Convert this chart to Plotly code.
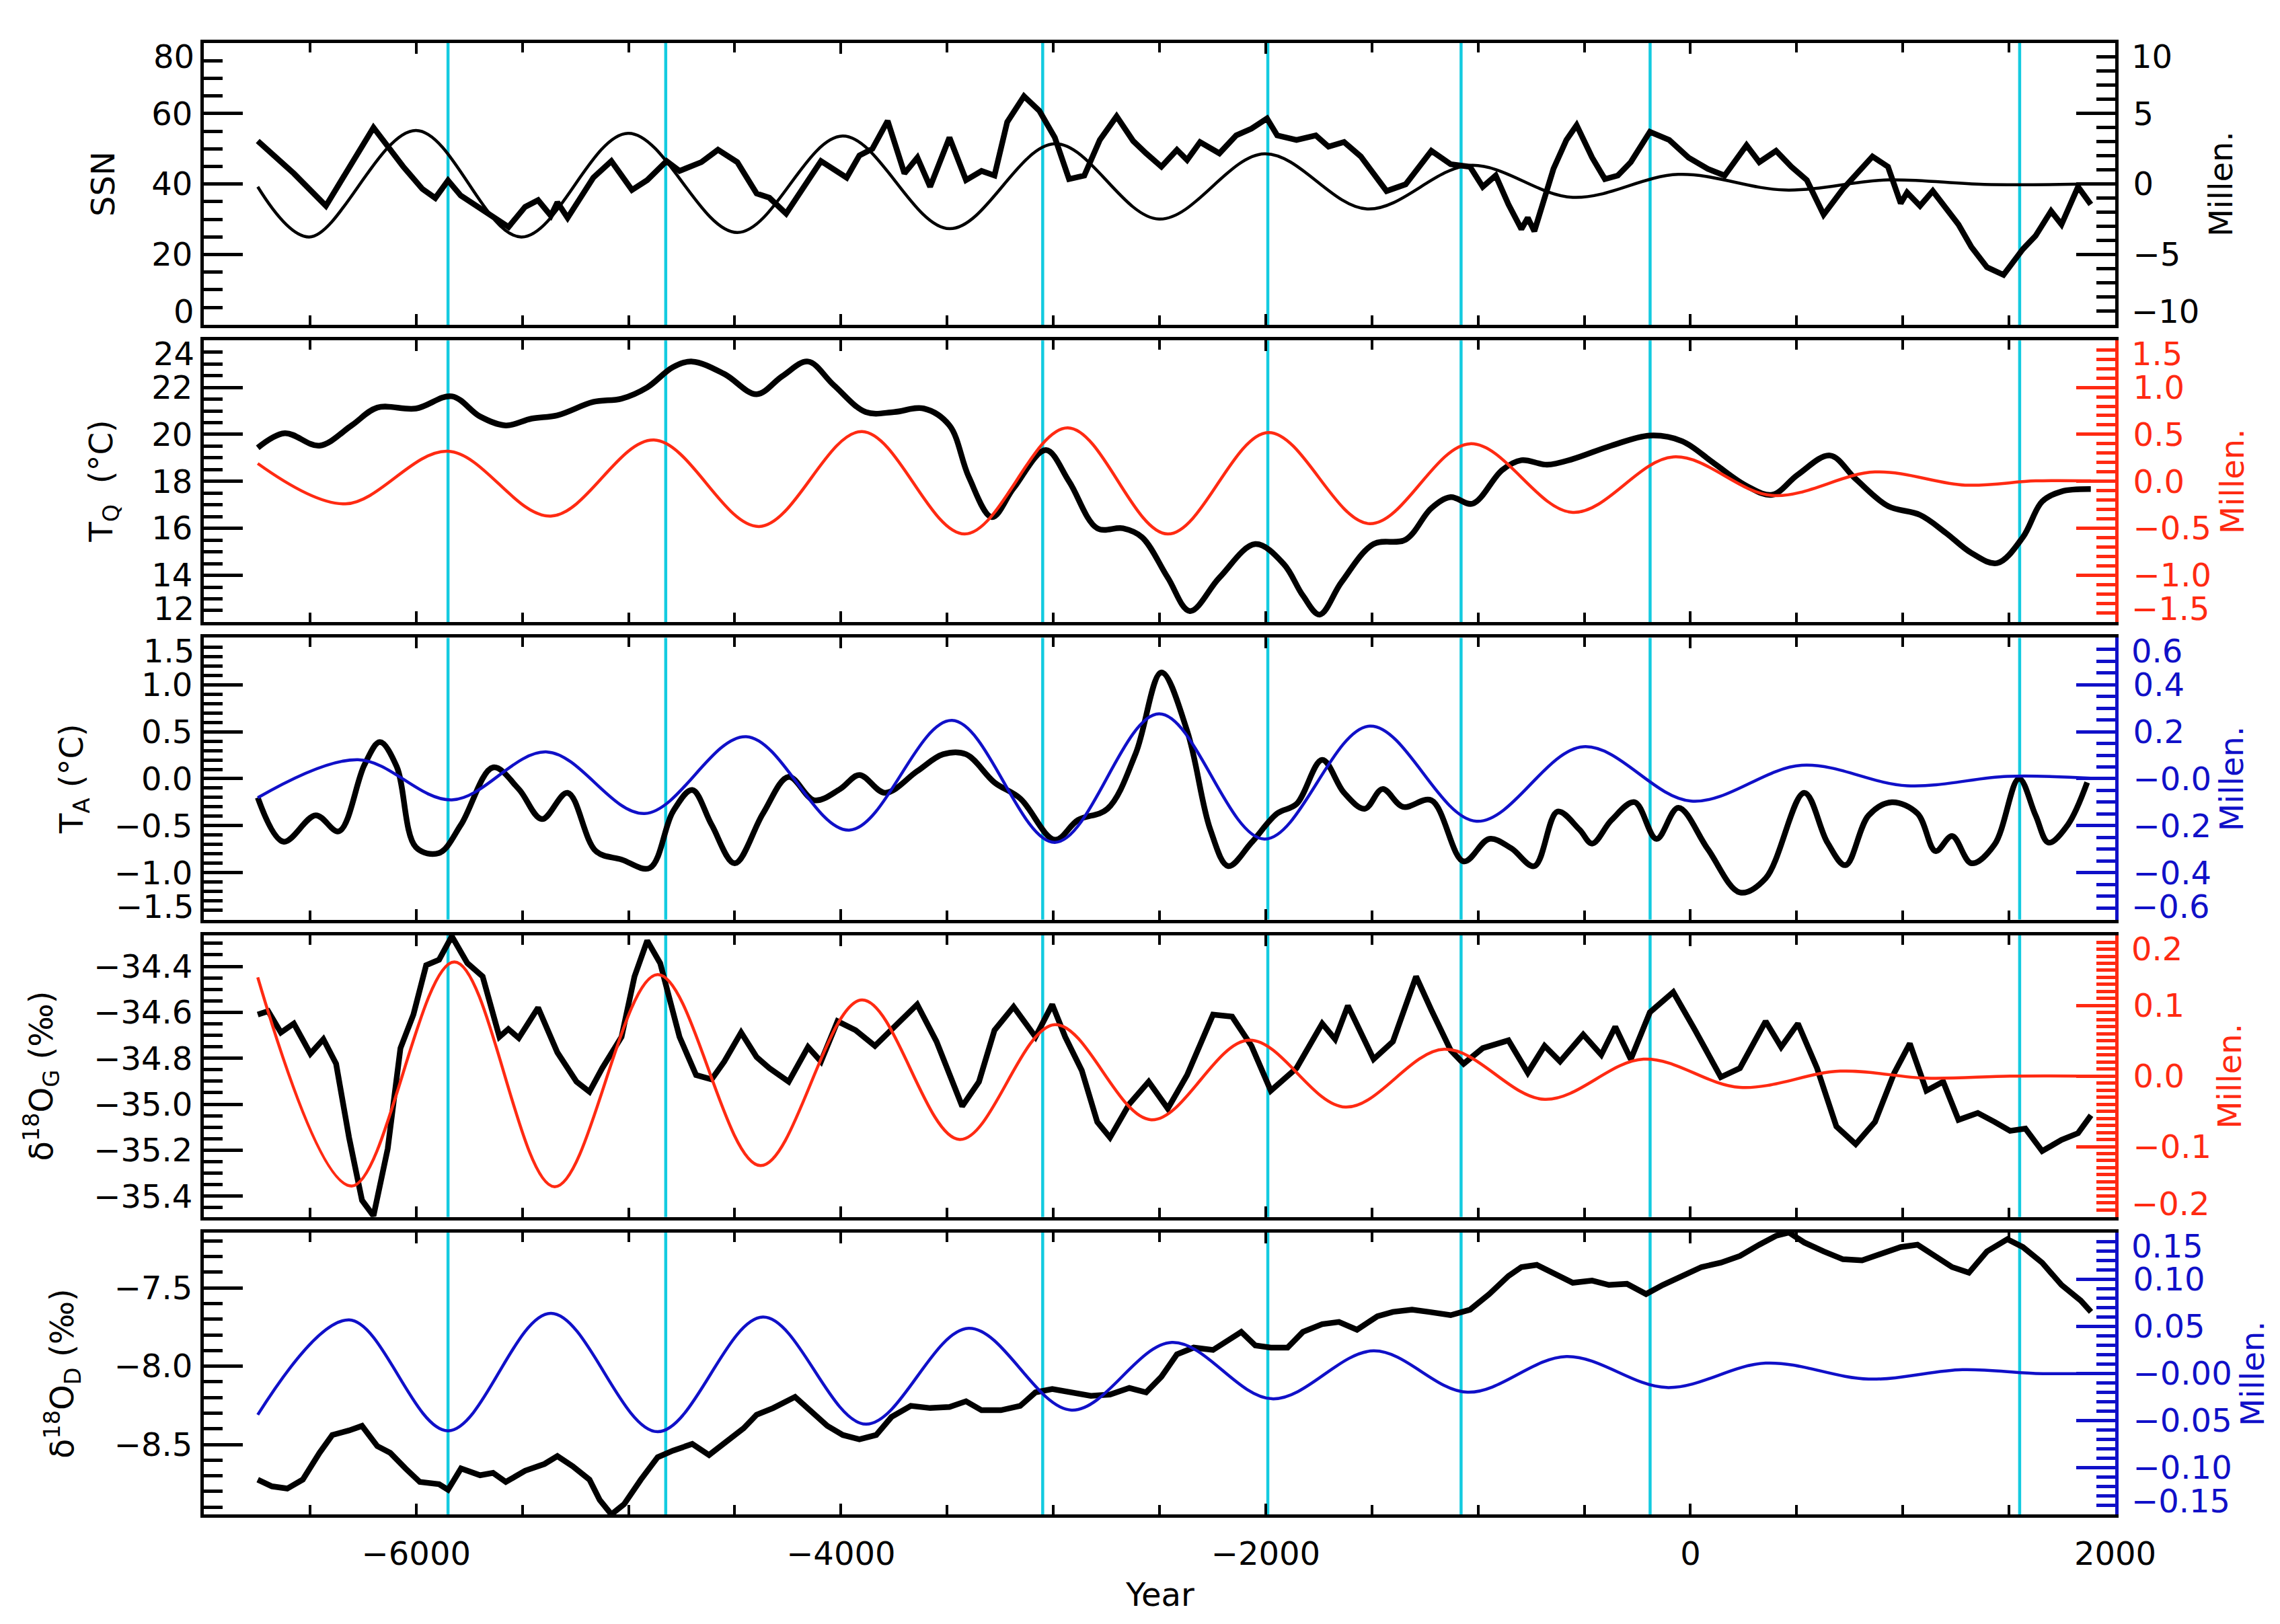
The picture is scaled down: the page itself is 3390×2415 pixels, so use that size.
import math
import plotly.graph_objects as go
from plotly.subplots import make_subplots

# years of the vertical marker lines
event_years = [-5850, -4825, -3050, -1990, -1080, -190, 1550]

# panel 1: sunspot number (thick) and millennial component (thin, right axis)
ssn = [(-6746, 52.2), (-6576, 43), (-6425, 33.8), (-6201, 56), (-6062, 45), (-5971, 38.6),
       (-5910, 36), (-5850, 41), (-5790, 36.7), (-5668, 32), (-5565, 27.8), (-5487, 33.5),
       (-5426, 35.4), (-5366, 31), (-5335, 34.8), (-5287, 30.4), (-5166, 41.8), (-5081, 46.5),
       (-4984, 38.3), (-4912, 41.1), (-4821, 46.5), (-4760, 43.7), (-4657, 46.2), (-4579, 49.7),
       (-4488, 46.2), (-4397, 37.3), (-4337, 36.1), (-4258, 31.6), (-4155, 40.8), (-4094, 46.5),
       (-3973, 41.8), (-3913, 48.1), (-3852, 50), (-3780, 57.9), (-3701, 43), (-3640, 47.5),
       (-3580, 39.2), (-3489, 53.2), (-3411, 41.1), (-3338, 43.7), (-3277, 42.4), (-3217, 57.6),
       (-3138, 64.9), (-3066, 60.8), (-2993, 53.2), (-2926, 41.4), (-2854, 42.4), (-2781, 52.5),
       (-2702, 59.2), (-2624, 52.2), (-2563, 48.7), (-2491, 44.9), (-2418, 49.7), (-2370, 46.8),
       (-2309, 51.9), (-2218, 48.7), (-2139, 53.8), (-2067, 55.7), (-1994, 58.6), (-1946, 53.8),
       (-1855, 52.5), (-1764, 53.8), (-1704, 50.6), (-1631, 51.9), (-1552, 47.8), (-1431, 38),
       (-1341, 39.9), (-1220, 49.4), (-1129, 45.6), (-1038, 44.9), (-978, 39.2), (-917, 42.4),
       (-857, 34.2), (-796, 27.2), (-766, 30.4), (-735, 26.6), (-645, 44.3), (-584, 52.5),
       (-536, 56.7), (-463, 47.5), (-403, 41.4), (-342, 42.4), (-281, 46.2), (-191, 54.8),
       (-100, 52.5), (-9, 47.5), (82, 44.3), (161, 42.4), (264, 51), (324, 46.2), (403, 49.4),
       (475, 44.9), (548, 41.1), (627, 31.3), (718, 38.6), (857, 47.8), (930, 44.9), (990, 34.5),
       (1020, 37.6), (1081, 33.8), (1141, 38), (1262, 28.5), (1323, 22.1), (1396, 16.4),
       (1474, 14.2), (1565, 21.5), (1625, 25.3), (1698, 32.3), (1747, 28.5), (1825, 39.2),
       (1885, 34.2)]
ssn_millen = [(-6746, -0.2), (-6504, -3.76), (-6001, 3.8), (-5505, -3.76), (-5002, 3.6),
              (-4488, -3.44), (-3992, 3.4), (-3489, -3.17), (-2993, 2.85), (-2502, -2.49),
              (-2006, 2.14), (-1522, -1.77), (-1038, 1.32), (-554, -0.95), (-57, 0.68),
              (445, -0.43), (930, 0.29), (1383, -0.03), (1885, 0.0)]

# panel 2: T_Q
tq = [(-6746, 19.43), (-6619, 20.05), (-6455, 19.52), (-6304, 20.38), (-6183, 21.14),
      (-6001, 21.1), (-5832, 21.62), (-5699, 20.76), (-5578, 20.38), (-5457, 20.67),
      (-5335, 20.81), (-5166, 21.38), (-5033, 21.52), (-4912, 22.0), (-4791, 22.86),
      (-4700, 23.1), (-4549, 22.57), (-4397, 21.71), (-4276, 22.48), (-4155, 23.1),
      (-4034, 22.1), (-3883, 20.95), (-3750, 20.95), (-3610, 21.1), (-3489, 20.38),
      (-3398, 18.19), (-3289, 16.48), (-3187, 17.71), (-3035, 19.33), (-2926, 18.0),
      (-2793, 16.0), (-2672, 16.0), (-2582, 15.62), (-2461, 13.9), (-2357, 12.48),
      (-2218, 13.9), (-2049, 15.33), (-1915, 14.48), (-1825, 13.14), (-1746, 12.33),
      (-1643, 13.71), (-1492, 15.33), (-1341, 15.52), (-1220, 16.86), (-1129, 17.33),
      (-1026, 17.05), (-887, 18.48), (-796, 18.9), (-675, 18.71), (-554, 18.95), (-373, 19.52),
      (-191, 19.95), (-39, 19.71), (112, 18.76), (264, 17.81), (385, 17.43), (506, 18.29),
      (657, 19.1), (778, 18.1), (930, 16.95), (1081, 16.57), (1202, 15.81), (1323, 14.95),
      (1444, 14.52), (1565, 15.62), (1656, 17.14), (1747, 17.57), (1885, 17.67)]
tq_millen = [(-6746, 0.19), (-6334, -0.24), (-5850, 0.32), (-5366, -0.37), (-4881, 0.44),
             (-4385, -0.48), (-3901, 0.53), (-3417, -0.56), (-2932, 0.57), (-2461, -0.56),
             (-1988, 0.52), (-1510, -0.45), (-1038, 0.40), (-554, -0.33), (-81, 0.26),
             (385, -0.15), (869, 0.10), (1293, -0.04), (1625, 0.005), (1885, 0.005)]

# panel 3: T_A
ta = [(-6746, -0.20), (-6625, -0.67), (-6473, -0.39), (-6364, -0.56), (-6243, 0.15),
      (-6171, 0.39), (-6092, 0.13), (-6001, -0.73), (-5892, -0.79), (-5789, -0.49),
      (-5638, 0.12), (-5517, -0.11), (-5408, -0.43), (-5287, -0.15), (-5154, -0.77),
      (-5033, -0.86), (-4900, -0.95), (-4791, -0.35), (-4700, -0.12), (-4609, -0.49),
      (-4500, -0.90), (-4367, -0.37), (-4246, 0.02), (-4125, -0.23), (-4004, -0.11),
      (-3913, 0.04), (-3792, -0.15), (-3641, 0.08), (-3519, 0.26), (-3411, 0.26),
      (-3277, -0.04), (-3156, -0.21), (-2993, -0.65), (-2884, -0.44), (-2745, -0.32),
      (-2612, 0.27), (-2491, 1.13), (-2370, 0.51), (-2261, -0.54), (-2176, -0.93),
      (-2067, -0.68), (-1946, -0.37), (-1855, -0.27), (-1734, 0.20), (-1631, -0.15),
      (-1534, -0.32), (-1450, -0.11), (-1353, -0.30), (-1220, -0.23), (-1068, -0.88),
      (-947, -0.64), (-844, -0.74), (-735, -0.93), (-626, -0.35), (-523, -0.54), (-463, -0.69),
      (-372, -0.44), (-263, -0.25), (-160, -0.64), (-57, -0.31), (82, -0.75), (233, -1.21),
      (354, -1.06), (536, -0.15), (645, -0.68), (730, -0.92), (839, -0.39), (948, -0.25),
      (1069, -0.37), (1154, -0.77), (1232, -0.61), (1323, -0.90), (1432, -0.70), (1547, 0.0),
      (1625, -0.39), (1686, -0.68), (1777, -0.49), (1868, -0.04)]
ta_millen = [(-6746, -0.081), (-6274, 0.081), (-5832, -0.09), (-5384, 0.114), (-4924, -0.148),
             (-4446, 0.179), (-3961, -0.219), (-3477, 0.248), (-2993, -0.271), (-2502, 0.276),
             (-2006, -0.257), (-1510, 0.224), (-1008, -0.181), (-505, 0.136), (3, -0.095),
             (524, 0.057), (1020, -0.030), (1492, 0.010), (1885, 0.002)]

# panel 4: d18O Greenland
dg = [(-6746, -34.61), (-6697, -34.595), (-6637, -34.688), (-6576, -34.649), (-6498, -34.78),
      (-6437, -34.717), (-6377, -34.824), (-6316, -35.145), (-6255, -35.418), (-6201, -35.486),
      (-6134, -35.194), (-6074, -34.756), (-6013, -34.61), (-5953, -34.395), (-5892, -34.371),
      (-5832, -34.269), (-5759, -34.386), (-5687, -34.444), (-5608, -34.707), (-5566, -34.673),
      (-5517, -34.712), (-5426, -34.58), (-5335, -34.775), (-5245, -34.902), (-5184, -34.946),
      (-5124, -34.843), (-5033, -34.707), (-4972, -34.444), (-4912, -34.288), (-4851, -34.386),
      (-4760, -34.707), (-4682, -34.873), (-4609, -34.892), (-4549, -34.814), (-4470, -34.688),
      (-4397, -34.795), (-4337, -34.843), (-4246, -34.902), (-4155, -34.751), (-4094, -34.814),
      (-4016, -34.639), (-3931, -34.678), (-3840, -34.746), (-3750, -34.668), (-3641, -34.566),
      (-3550, -34.727), (-3429, -35.009), (-3350, -34.902), (-3277, -34.678), (-3187, -34.576),
      (-3084, -34.707), (-3005, -34.566), (-2944, -34.707), (-2866, -34.853), (-2793, -35.077),
      (-2733, -35.145), (-2642, -34.999), (-2551, -34.902), (-2461, -35.019), (-2370, -34.873),
      (-2248, -34.61), (-2158, -34.619), (-2067, -34.746), (-1976, -34.941), (-1855, -34.843),
      (-1734, -34.649), (-1673, -34.717), (-1613, -34.571), (-1492, -34.804), (-1401, -34.727),
      (-1292, -34.444), (-1220, -34.59), (-1129, -34.765), (-1068, -34.824), (-978, -34.756),
      (-857, -34.722), (-766, -34.863), (-687, -34.746), (-614, -34.814), (-505, -34.697),
      (-420, -34.785), (-354, -34.663), (-281, -34.804), (-191, -34.6), (-81, -34.512),
      (22, -34.678), (143, -34.882), (233, -34.843), (354, -34.639), (427, -34.751),
      (506, -34.649), (596, -34.843), (687, -35.097), (778, -35.174), (869, -35.077),
      (960, -34.863), (1033, -34.736), (1111, -34.941), (1190, -34.902), (1262, -35.068),
      (1353, -35.038), (1432, -35.077), (1505, -35.116), (1577, -35.106), (1656, -35.204),
      (1747, -35.155), (1825, -35.126), (1886, -35.048)]
dg_millen = [(-6746, 0.140), (-6304, -0.156), (-5820, 0.162), (-5348, -0.157), (-4863, 0.144),
             (-4379, -0.127), (-3901, 0.108), (-3441, -0.090), (-2993, 0.073), (-2539, -0.062),
             (-2079, 0.051), (-1625, -0.044), (-1159, 0.038), (-687, -0.033), (-221, 0.024),
             (233, -0.016), (705, 0.007), (1111, -0.003), (1505, 0.0), (1885, 0.0)]

# panel 5: d18O Dongge
dd = [(-6746, -8.724), (-6679, -8.767), (-6607, -8.781), (-6534, -8.724), (-6455, -8.553),
      (-6395, -8.439), (-6316, -8.41), (-6255, -8.381), (-6183, -8.51), (-6122, -8.553),
      (-6050, -8.653), (-5983, -8.739), (-5892, -8.753), (-5850, -8.789), (-5789, -8.653),
      (-5699, -8.696), (-5638, -8.681), (-5578, -8.739), (-5487, -8.667), (-5396, -8.624),
      (-5335, -8.574), (-5263, -8.639), (-5184, -8.724), (-5136, -8.853), (-5081, -8.946),
      (-5021, -8.881), (-4942, -8.724), (-4863, -8.581), (-4791, -8.539), (-4700, -8.496),
      (-4621, -8.567), (-4549, -8.496), (-4458, -8.396), (-4397, -8.31), (-4319, -8.267),
      (-4216, -8.196), (-4137, -8.296), (-4064, -8.381), (-3991, -8.439), (-3913, -8.467),
      (-3834, -8.439), (-3762, -8.324), (-3671, -8.253), (-3580, -8.267), (-3489, -8.26),
      (-3411, -8.224), (-3338, -8.281), (-3247, -8.281), (-3156, -8.253), (-3084, -8.167),
      (-3005, -8.146), (-2914, -8.167), (-2823, -8.189), (-2733, -8.181), (-2642, -8.139),
      (-2563, -8.167), (-2491, -8.067), (-2418, -7.924), (-2339, -7.881), (-2248, -7.896),
      (-2176, -7.839), (-2115, -7.781), (-2049, -7.867), (-1976, -7.881), (-1897, -7.881),
      (-1825, -7.781), (-1734, -7.731), (-1655, -7.717), (-1570, -7.767), (-1474, -7.681),
      (-1401, -7.653), (-1311, -7.639), (-1232, -7.653), (-1129, -7.674), (-1038, -7.639),
      (-947, -7.539), (-857, -7.424), (-796, -7.367), (-723, -7.353), (-645, -7.41),
      (-554, -7.467), (-463, -7.453), (-384, -7.481), (-299, -7.474), (-209, -7.539),
      (-130, -7.481), (-39, -7.424), (52, -7.367), (143, -7.339), (233, -7.296), (324, -7.224),
      (403, -7.167), (463, -7.146), (536, -7.21), (627, -7.267), (718, -7.317), (808, -7.324),
      (899, -7.281), (990, -7.239), (1069, -7.224), (1154, -7.296), (1232, -7.367),
      (1311, -7.403), (1396, -7.267), (1492, -7.189), (1565, -7.239), (1656, -7.339),
      (1747, -7.481), (1838, -7.581), (1886, -7.653)]
dd_millen = [(-6746, -0.044), (-6316, 0.057), (-5850, -0.061), (-5366, 0.064), (-4863, -0.062),
             (-4367, 0.060), (-3883, -0.054), (-3399, 0.048), (-2914, -0.039), (-2442, 0.033),
             (-1970, -0.027), (-1492, 0.024), (-1050, -0.020), (-584, 0.018), (-112, -0.015),
             (354, 0.011), (839, -0.006), (1281, 0.004), (1625, 0.0), (1885, 0.0)]

RED = '#ff2a12'
BLUE = '#1010c8'
CYAN = '#14cbe0'
FONT = 'DejaVu Sans'
MINUS = '\u2212'

panels = [
    dict(data=ssn, shape='linear', millen=ssn_millen, color='black',
         left=dict(range=[0, 80], dtick=20, minor=5, fmt='{:.0f}'),
         right=dict(range=[-10, 10], dtick=5, minor=1, fmt='{:.0f}'),
         ltitle='SSN', lx=-0.053, rx=1.055),
    dict(data=tq, shape='spline', millen=tq_millen, color=RED,
         left=dict(range=[12, 24], dtick=2, minor=0.5, fmt='{:.0f}'),
         right=dict(range=[-1.5, 1.5], dtick=0.5, minor=0.1, fmt='{:.1f}'),
         ltitle='T<sub>Q</sub>  (°C)', lx=-0.0525, rx=1.061),
    dict(data=ta, shape='spline', millen=ta_millen, color=BLUE,
         left=dict(range=[-1.5, 1.5], dtick=0.5, minor=0.1, fmt='{:.1f}'),
         right=dict(range=[-0.6, 0.6], dtick=0.2, minor=0.05, fmt='{:.1f}', zero=MINUS + '0.0'),
         ltitle='T<sub>A</sub> (°C)', lx=-0.0683, rx=1.061),
    dict(data=dg, shape='linear', millen=dg_millen, color=RED,
         left=dict(range=[-35.491, -34.264], dtick=0.2, minor=0.05, fmt='{:.1f}'),
         right=dict(range=[-0.2, 0.2], dtick=0.1, minor=0.01, fmt='{:.1f}'),
         ltitle='δ<sup>18</sup>O<sub>G</sub> (‰)', lx=-0.085, rx=1.060),
    dict(data=dd, shape='linear', millen=dd_millen, color=BLUE,
         left=dict(range=[-8.946, -7.146], dtick=0.5, minor=0.1, fmt='{:.1f}'),
         right=dict(range=[-0.15, 0.15], dtick=0.05, minor=0.01, fmt='{:.2f}', zero=MINUS + '0.00'),
         ltitle='δ<sup>18</sup>O<sub>D</sub> (‰)', lx=-0.074, rx=1.072),
]

fig = make_subplots(rows=5, cols=1, shared_xaxes=True, vertical_spacing=0.0105,
                    specs=[[{"secondary_y": True}] for _ in range(5)])


def tick_values(lo, hi, step):
    n0 = math.ceil(lo / step - 1e-6)
    n1 = math.floor(hi / step + 1e-6)
    return [round(k * step, 6) for k in range(n0, n1 + 1)]


def tick_label(v, cfg):
    if v == 0 and 'zero' in cfg:
        return cfg['zero']
    return cfg['fmt'].format(v).replace('-', MINUS)


def axis_style(cfg, color, standoff):
    lo, hi = cfg['range']
    vals = tick_values(lo, hi, cfg['dtick'])
    # labels at the ends of the range are drawn separately, nudged inside the panel
    text = ['' if min(abs(v - lo), abs(v - hi)) < 1e-6 else tick_label(v, cfg) for v in vals]
    return dict(range=[lo, hi], showline=True, linecolor=color, linewidth=5, automargin=False,
                ticks='inside', ticklen=58, tickwidth=5, tickcolor=color,
                tickmode='array', tickvals=vals, ticktext=text, ticklabelstandoff=standoff,
                tickfont=dict(family=FONT, size=48, color=color),
                showgrid=False, zeroline=False,
                minor=dict(ticks='inside', dtick=cfg['minor'], tick0=0, ticklen=28,
                           tickwidth=5, tickcolor=color, showgrid=False))


def end_labels(cfg, color, yref, side):
    lo, hi = cfg['range']
    for v in tick_values(lo, hi, cfg['dtick']):
        if abs(v - hi) < 1e-6:
            ypos, shift = 1, -20
        elif abs(v - lo) < 1e-6:
            ypos, shift = 0, 20
        else:
            continue
        fig.add_annotation(text=tick_label(v, cfg), xref='paper', yref=yref + ' domain',
                           x=0 if side == 'left' else 1, y=ypos, yshift=shift,
                           xanchor='right' if side == 'left' else 'left', yanchor='middle',
                           xshift=-12 if side == 'left' else 22, showarrow=False,
                           font=dict(family=FONT, size=48, color=color))


for i, p in enumerate(panels):
    row = i + 1
    xs = [v[0] for v in p['data']]
    ys = [v[1] for v in p['data']]
    mx = [v[0] for v in p['millen']]
    my = [v[1] for v in p['millen']]

    # vertical event lines, one per panel
    xref = 'x' if row == 1 else f'x{row}'
    yref = 'y' if row == 1 else f'y{2 * row - 1}'
    for yr in event_years:
        fig.add_shape(type='line', xref=xref, yref=yref + ' domain', x0=yr, x1=yr, y0=0, y1=1,
                      line=dict(color=CYAN, width=4.5), layer='below')

    fig.add_trace(go.Scatter(x=mx, y=my, mode='lines', showlegend=False,
                             line=dict(color=p['color'], width=4.5, shape='spline', smoothing=1.0)),
                  row=row, col=1, secondary_y=True)
    fig.add_trace(go.Scatter(x=xs, y=ys, mode='lines', showlegend=False,
                             line=dict(color='black', width=8.5, shape=p['shape'])),
                  row=row, col=1, secondary_y=False)

    fig.update_yaxes(axis_style(p['left'], 'black', 2), row=row, col=1, secondary_y=False)
    fig.update_yaxes(axis_style(p['right'], p['color'], 12), row=row, col=1, secondary_y=True)
    end_labels(p['left'], 'black', yref, 'left')
    end_labels(p['right'], p['color'], yref, 'right')

    fig.add_annotation(text=p['ltitle'], xref='paper', yref=yref + ' domain', x=p['lx'], y=0.5,
                       textangle=-90, showarrow=False, xanchor='center', yanchor='middle',
                       font=dict(family=FONT, size=48, color='black'))
    fig.add_annotation(text='Millen.', xref='paper', yref=yref + ' domain', x=p['rx'], y=0.5,
                       textangle=-90, showarrow=False, xanchor='center', yanchor='middle',
                       font=dict(family=FONT, size=48, color=p['color']))

fig.update_xaxes(domain=[0, 1], range=[-7000, 2000], showline=True, linecolor='black',
                 linewidth=5, automargin=False, mirror='ticks', ticks='inside', ticklen=16,
                 tickwidth=4, tickcolor='black', tickmode='linear', tick0=0, dtick=2000,
                 showgrid=False, zeroline=False,
                 tickfont=dict(family=FONT, size=48, color='black'),
                 minor=dict(ticks='inside', dtick=500, tick0=0, ticklen=14, tickwidth=4,
                            tickcolor='black', showgrid=False))
fig.update_xaxes(ticklabelstandoff=12, row=5, col=1)

fig.add_annotation(text='Year', xref='paper', yref='paper', x=0.5, y=-0.0544, showarrow=False,
                   xanchor='center', yanchor='middle', font=dict(family=FONT, size=48, color='black'))

fig.update_layout(width=3390, height=2415, plot_bgcolor='white', paper_bgcolor='white',
                  margin=dict(l=295, r=253, t=56, b=171),
                  font=dict(family=FONT, size=48, color='black'))

fig.write_html("out.html")
